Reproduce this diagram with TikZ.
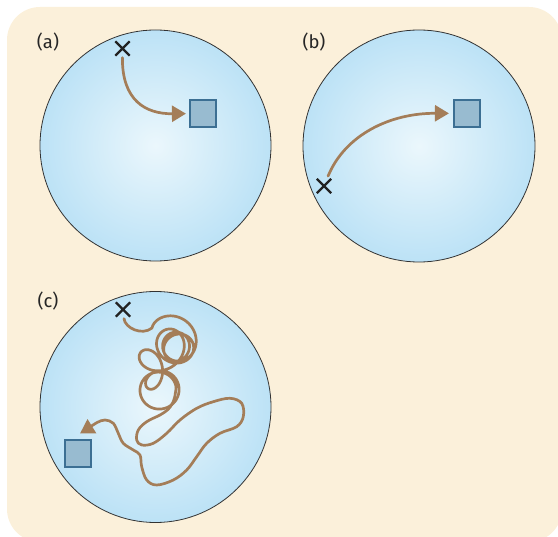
\documentclass[tikz,border=0pt]{standalone}
\usepackage{fontspec}
\setmainfont{Fira Sans}
\usetikzlibrary{shapes.misc,arrows.meta}
\definecolor{bgbeige}{HTML}{FBF0DA}
\definecolor{cellin}{HTML}{EBF7FC}
\definecolor{cellout}{HTML}{BCE2F6}
\definecolor{pathbrown}{HTML}{A47D58}
\definecolor{sqfill}{HTML}{98BBD0}
\definecolor{sqdraw}{HTML}{3C6F93}
\definecolor{xdark}{HTML}{222222}
\tikzset{
  cell/.style={draw=black!80, line width=0.8pt, inner color=cellin, outer color=cellout},
  target/.style={draw=sqdraw, fill=sqfill, line width=1.6pt, minimum size=26.5pt, inner sep=0pt},
  startx/.style={cross out, draw=xdark, line width=2.3pt, minimum size=12pt, inner sep=0pt},
  walk/.style={draw=pathbrown, line width=2.7pt, line cap=round, line join=round},
  walkarrow/.style={walk, -{Triangle[length=14pt,width=16pt]}},
  panel/.style={font=\fontsize{18.5}{20}\selectfont, text=black!85, inner sep=0pt}
}
\begin{document}
\begin{tikzpicture}[x=1pt,y=-1pt]
\useasboundingbox (0,0) rectangle (558,537);
\begin{scope}
\clip (0,0) rectangle (558,537);
\fill[bgbeige, rounded corners=33pt] (7,7) rectangle (562,542);
\end{scope}
% cells
\shade[cell] (155.5,145.5) circle (115.5);
\shade[cell] (419,146) circle (116);
\shade[cell] (155.5,407) circle (115.5);
% labels
\node[panel] (la) at (48,42) {(a)};
\node[panel] (lb) at (314,42) {(b)};
\node[panel] (lc) at (48,301) {(c)};
% (a)
\node[target] (sqa) at (203,113.5) {};
\node[startx] (xa) at (122.5,48.5) {};
\draw[walkarrow, shorten <=2pt, shorten >=3pt] (xa) .. controls (122,100) and (145,114) .. (sqa);
% (b)
\node[target] (sqb) at (467,113.5) {};
\node[startx] (xb) at (324,186) {};
\draw[walkarrow, shorten <=3pt, shorten >=4pt] (xb) .. controls (345,135) and (390,113) .. (sqb);
% (c)
\node[target] (sqc) at (78,453.5) {};
\node[startx] (xc) at (123,309.5) {};
\coordinate (tanglestart) at (152,328);
\coordinate (tangleend) at (176.1,388);
\coordinate (tipc) at (80,433.5);
\draw[walk, shorten <=2pt] (xc) .. controls (125,328) and (142,336) .. (tanglestart);
\draw[walk] plot[domain=0:1, samples=600]
  ({167 + 13*sin(360*\x) + 6*sin(1000*\x) + (15+4*sin(900*\x))*cos(180+2340*\x+40*sin(720*\x))},
   {328 + 60*\x + 10*sin(540*\x) + (15+4*sin(900*\x))*sin(180+2340*\x+40*sin(720*\x))});
\draw[walkarrow] plot[smooth, tension=0.6] coordinates {
 (tangleend) (174.5,398) (172,404) (168,409.5) (160,415) (146.7,421.7) (138.3,430)
 (136.7,440) (141.7,445) (153.3,443.3) (166.7,433.3) (180,420) (196.7,408.3)
 (213.3,401.7) (230,398.3) (241.7,403.3) (243.3,416.7) (236.7,426.7)
 (220,433.3) (206.7,443.3) (196.7,456.7) (186.7,470) (173.3,480)
 (156.7,485) (146.7,480) (141.7,466.7) (140,455) (133.3,450) (123.3,443.3)
 (118.3,433.3) (113.3,423.3) (105,420) (96.7,422.7) (88.3,428.3) (tipc)};
\end{tikzpicture}
\end{document}
